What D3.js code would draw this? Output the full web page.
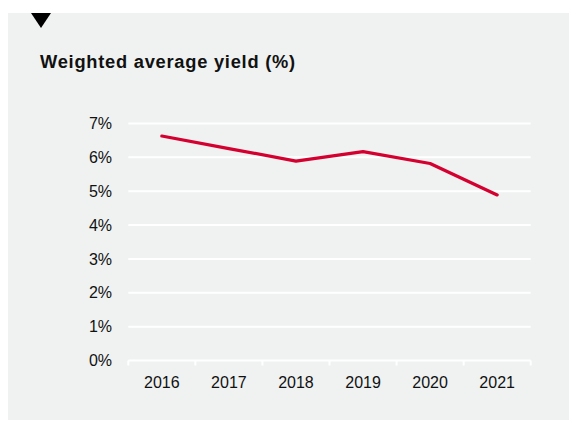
<!DOCTYPE html>
<html><head><meta charset="utf-8">
<script src="https://cdn.jsdelivr.net/npm/d3@7"></script>
<style>html,body{margin:0;padding:0;background:#fff;}svg{display:block;}</style>
</head><body>
<script>
const years = ["2016","2017","2018","2019","2020","2021"];
const yieldValues = [6.63, 6.26, 5.89, 6.17, 5.82, 4.89];
const yTicks = [0,1,2,3,4,5,6,7];
const title = "Weighted average yield (%)";

const W = 569, H = 421;
const svg = d3.select("body").append("svg").attr("width", W).attr("height", H);
svg.append("rect").attr("x", 8).attr("y", 13).attr("width", 561).attr("height", 407).attr("fill", "#eff2f1");
svg.append("path").attr("d", "M31,13 L51,13 L41,28 Z").attr("fill", "#000");
svg.append("text").attr("x", 40).attr("y", 68.3).text(title)
  .attr("font-family", "Liberation Sans, Arial, sans-serif").attr("font-weight", "bold")
  .attr("font-size", 18.3).attr("letter-spacing", 0.75).attr("fill", "#111");

const x = d3.scaleBand().domain(years).range([128.3, 530.7]);
const y = d3.scaleLinear().domain([0, 7]).range([360.5, 123.5]);

const font = "Liberation Sans, Arial, sans-serif";
// gridlines
svg.append("g").selectAll("line").data(yTicks).join("line")
  .attr("x1", 128.3).attr("x2", 530.7)
  .attr("y1", d => y(d)).attr("y2", d => y(d))
  .attr("stroke", "#fff").attr("stroke-width", 2);

// y labels
svg.append("g").selectAll("text").data(yTicks).join("text")
  .attr("x", 112).attr("y", d => y(d)).attr("dy", "0.35em")
  .attr("text-anchor", "end").attr("font-family", font).attr("font-size", 16).attr("fill", "#111")
  .text(d => d + "%");

// x axis ticks
const tickXs = years.map(d => x(d)).concat([x.range()[1]]);
svg.append("g").selectAll("line").data(tickXs).join("line")
  .attr("x1", d => d).attr("x2", d => d).attr("y1", y(0)).attr("y2", y(0) + 5)
  .attr("stroke", "#fff").attr("stroke-width", 2);

svg.append("g").selectAll("text").data(years).join("text")
  .attr("x", d => x(d) + x.bandwidth() / 2).attr("y", 382).attr("dy", "0.35em")
  .attr("text-anchor", "middle").attr("font-family", font).attr("font-size", 16).attr("fill", "#111")
  .text(d => d);

const line = d3.line().x((d, i) => x(years[i]) + x.bandwidth() / 2).y(d => y(d));
svg.append("path").datum(yieldValues).attr("d", line)
  .attr("fill", "none").attr("stroke", "#d4002f").attr("stroke-width", 3.2)
  .attr("stroke-linejoin", "round").attr("stroke-linecap", "round");
</script>
</body></html>
